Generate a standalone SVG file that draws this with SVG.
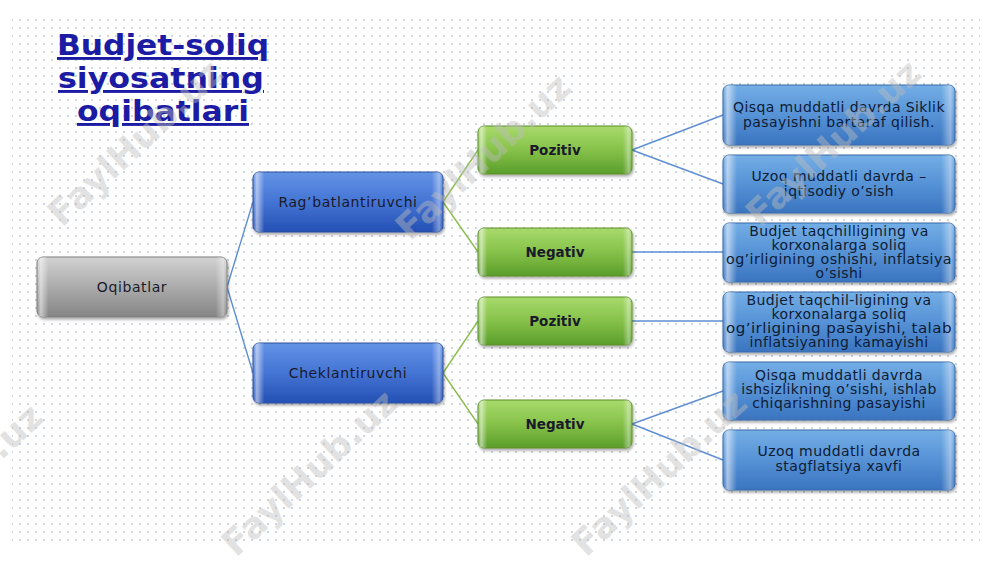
<svg xmlns="http://www.w3.org/2000/svg" width="1000" height="562" viewBox="0 0 1000 562">
<defs>
<pattern id="dots" x="0" y="0" width="8" height="8" patternUnits="userSpaceOnUse">
<circle cx="4" cy="4" r="0.9" fill="#b9c2cc"/>
</pattern>
<linearGradient id="gGray" x1="0" y1="0" x2="0" y2="1">
<stop offset="0" stop-color="#d2d2d2"/><stop offset="0.5" stop-color="#ababab"/><stop offset="1" stop-color="#858585"/>
</linearGradient>
<linearGradient id="gBlue" x1="0" y1="0" x2="0" y2="1">
<stop offset="0" stop-color="#6393e6"/><stop offset="0.5" stop-color="#4474d4"/><stop offset="1" stop-color="#2450b4"/>
</linearGradient>
<linearGradient id="gGreen" x1="0" y1="0" x2="0" y2="1">
<stop offset="0" stop-color="#a8da6c"/><stop offset="0.5" stop-color="#86c24a"/><stop offset="1" stop-color="#5a9e2a"/>
</linearGradient>
<linearGradient id="gLeaf" x1="0" y1="0" x2="0" y2="1">
<stop offset="0" stop-color="#74aee6"/><stop offset="0.5" stop-color="#5692d6"/><stop offset="1" stop-color="#3a74c0"/>
</linearGradient>
<linearGradient id="bevel" x1="0" y1="0" x2="1" y2="0">
<stop offset="0" stop-color="#fff" stop-opacity="0"/>
<stop offset="0.02" stop-color="#fff" stop-opacity="0.55"/>
<stop offset="0.06" stop-color="#fff" stop-opacity="0"/>
<stop offset="0.94" stop-color="#fff" stop-opacity="0"/>
<stop offset="0.98" stop-color="#fff" stop-opacity="0.4"/>
<stop offset="1" stop-color="#fff" stop-opacity="0"/>
</linearGradient>
<filter id="shadow" x="-10%" y="-20%" width="120%" height="150%">
<feDropShadow dx="1" dy="2" stdDeviation="1.5" flood-color="#000" flood-opacity="0.35"/>
</filter>
<style>
.title{font-family:"DejaVu Sans","Liberation Sans",sans-serif;font-weight:bold;font-size:29px;fill:#1b1ba3;text-decoration:underline;text-anchor:middle}
.lbl{font-family:"DejaVu Sans","Liberation Sans",sans-serif;font-size:14px;letter-spacing:0.6px;fill:#1a1a2a;text-anchor:middle}
.bold{font-weight:bold;font-size:13.5px;letter-spacing:0}
.leaf{font-family:"DejaVu Sans","Liberation Sans",sans-serif;font-size:14px;letter-spacing:0.4px;fill:#0e1c35;text-anchor:middle}
.box{filter:url(#shadow)}
.bv{fill:url(#bevel)}
.cb{stroke:#5e8fd2;stroke-width:1.4;fill:none}
.cg{stroke:#8cbd52;stroke-width:1.4;fill:none}
.wm{font-family:"DejaVu Sans",sans-serif;font-weight:bold;font-size:36px;fill:#bdbdbd;fill-opacity:0.45}
</style>
</defs>
<rect width="1000" height="562" fill="#ffffff"/>
<rect x="12" y="18" width="968" height="528" fill="url(#dots)"/>

<g id="title">
<text class="title" x="163" y="55" textLength="212" lengthAdjust="spacingAndGlyphs">Budjet-soliq</text>
<text class="title" x="161" y="88" textLength="206" lengthAdjust="spacingAndGlyphs">siyosatning</text>
<text class="title" x="163" y="121" textLength="172" lengthAdjust="spacingAndGlyphs">oqibatlari</text>
</g>

<g id="connectors">
<path class="cb" d="M227 287 L253 202 M227 287 L253 373"/>
<path class="cg" d="M443 202 L478 150 M443 202 L478 252 M443 373 L478 321 M443 373 L478 424"/>
<path class="cb" d="M632 150 L723 115 M632 150 L723 184 M632 252 L723 252 M632 321 L723 321 M632 424 L723 391 M632 424 L723 460"/>
</g>

<g id="n-oqibatlar">
<rect class="box" x="37" y="257" width="190" height="60" rx="6" fill="url(#gGray)" stroke="#7c7c7c"/>
<rect class="bv" x="37" y="257" width="190" height="60" rx="6"/>
<text class="lbl" x="132" y="292">Oqibatlar</text>
</g>
<g id="n-rag">
<rect class="box" x="253" y="172" width="190" height="60" rx="6" fill="url(#gBlue)" stroke="#2b4f9c"/>
<rect class="bv" x="253" y="172" width="190" height="60" rx="6"/>
<text class="lbl" x="348" y="207">Rag’batlantiruvchi</text>
</g>
<g id="n-chek">
<rect class="box" x="253" y="343" width="190" height="60" rx="6" fill="url(#gBlue)" stroke="#2b4f9c"/>
<rect class="bv" x="253" y="343" width="190" height="60" rx="6"/>
<text class="lbl" x="348" y="378">Cheklantiruvchi</text>
</g>

<g id="n-poz1">
<rect class="box" x="478" y="126" width="154" height="48" rx="6" fill="url(#gGreen)" stroke="#5c8c2c"/>
<rect class="bv" x="478" y="126" width="154" height="48" rx="6"/>
<text class="lbl bold" x="555" y="155">Pozitiv</text>
</g>
<g id="n-neg1">
<rect class="box" x="478" y="228" width="154" height="48" rx="6" fill="url(#gGreen)" stroke="#5c8c2c"/>
<rect class="bv" x="478" y="228" width="154" height="48" rx="6"/>
<text class="lbl bold" x="555" y="257">Negativ</text>
</g>
<g id="n-poz2">
<rect class="box" x="478" y="297" width="154" height="48" rx="6" fill="url(#gGreen)" stroke="#5c8c2c"/>
<rect class="bv" x="478" y="297" width="154" height="48" rx="6"/>
<text class="lbl bold" x="555" y="326">Pozitiv</text>
</g>
<g id="n-neg2">
<rect class="box" x="478" y="400" width="154" height="48" rx="6" fill="url(#gGreen)" stroke="#5c8c2c"/>
<rect class="bv" x="478" y="400" width="154" height="48" rx="6"/>
<text class="lbl bold" x="555" y="429">Negativ</text>
</g>

<g id="leaf1">
<rect class="box" x="723" y="85" width="232" height="60" rx="6" fill="url(#gLeaf)" stroke="#3a6aa8"/>
<rect class="bv" x="723" y="85" width="232" height="60" rx="6"/>
<text class="leaf" x="839" y="112">Qisqa muddatli davrda Siklik</text>
<text class="leaf" x="839" y="127">pasayishni bartaraf qilish.</text>
</g>
<g id="leaf2">
<rect class="box" x="723" y="155" width="232" height="58" rx="6" fill="url(#gLeaf)" stroke="#3a6aa8"/>
<rect class="bv" x="723" y="155" width="232" height="58" rx="6"/>
<text class="leaf" x="839" y="181">Uzoq muddatli davrda –</text>
<text class="leaf" x="839" y="196">iqtisodiy o’sish</text>
</g>
<g id="leaf3">
<rect class="box" x="723" y="223" width="232" height="59" rx="6" fill="url(#gLeaf)" stroke="#3a6aa8"/>
<rect class="bv" x="723" y="223" width="232" height="59" rx="6"/>
<text class="leaf" x="839" y="236">Budjet taqchilligining va</text>
<text class="leaf" x="839" y="250">korxonalarga soliq</text>
<text class="leaf" x="839" y="264" textLength="226" lengthAdjust="spacingAndGlyphs">og’irligining oshishi, inflatsiya</text>
<text class="leaf" x="839" y="278">o’sishi</text>
</g>
<g id="leaf4">
<rect class="box" x="723" y="292" width="232" height="60" rx="6" fill="url(#gLeaf)" stroke="#3a6aa8"/>
<rect class="bv" x="723" y="292" width="232" height="60" rx="6"/>
<text class="leaf" x="839" y="305">Budjet taqchil-ligining va</text>
<text class="leaf" x="839" y="319">korxonalarga soliq</text>
<text class="leaf" x="839" y="333" textLength="226" lengthAdjust="spacingAndGlyphs">og’irligining pasayishi, talab</text>
<text class="leaf" x="839" y="347">inflatsiyaning kamayishi</text>
</g>
<g id="leaf5">
<rect class="box" x="723" y="362" width="232" height="58" rx="6" fill="url(#gLeaf)" stroke="#3a6aa8"/>
<rect class="bv" x="723" y="362" width="232" height="58" rx="6"/>
<text class="leaf" x="839" y="380">Qisqa muddatli davrda</text>
<text class="leaf" x="839" y="394">ishsizlikning o’sishi, ishlab</text>
<text class="leaf" x="839" y="408">chiqarishning pasayishi</text>
</g>
<g id="leaf6">
<rect class="box" x="723" y="430" width="232" height="60" rx="6" fill="url(#gLeaf)" stroke="#3a6aa8"/>
<rect class="bv" x="723" y="430" width="232" height="60" rx="6"/>
<text class="leaf" x="839" y="456">Uzoq muddatli davrda</text>
<text class="leaf" x="839" y="471">stagflatsiya xavfi</text>
</g>

<g id="watermarks">
<text class="wm" transform="translate(62,228) rotate(-43)">FaylHub.uz</text>
<text class="wm" transform="translate(410,242) rotate(-43)">FaylHub.uz</text>
<text class="wm" transform="translate(760,228) rotate(-43)">FaylHub.uz</text>
<text class="wm" transform="translate(-118,572) rotate(-43)">FaylHub.uz</text>
<text class="wm" transform="translate(236,558) rotate(-43)">FaylHub.uz</text>
<text class="wm" transform="translate(586,558) rotate(-43)">FaylHub.uz</text>
</g>
</svg>
